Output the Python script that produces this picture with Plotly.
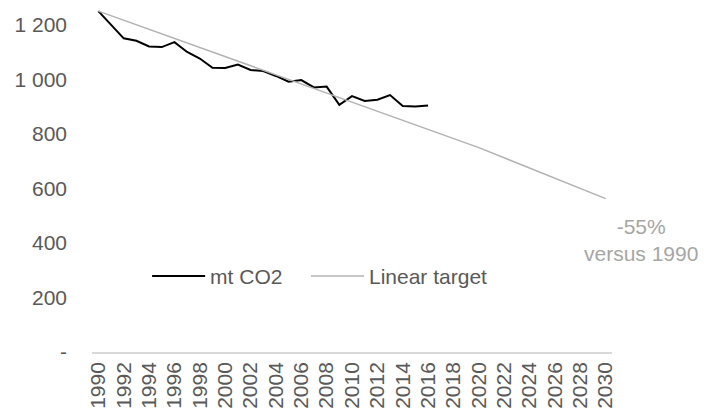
import plotly.graph_objects as go

# Annual emissions (mt CO2)
years = list(range(1990, 2017))
emissions = [1251, 1201, 1151, 1142, 1121, 1119, 1137, 1101, 1077, 1043,
             1042, 1055, 1035, 1031, 1013, 992, 998, 971, 974, 907,
             939, 921, 926, 943, 903, 901, 905]

# Linear reduction path: -40% by 2020, -55% by 2030
target_years = [1990, 2020, 2030]
target_values = [1251, 750, 563]

y_ticks = [0, 200, 400, 600, 800, 1000, 1200]
y_labels = ["-", "200", "400", "600", "800", "1 000", "1 200"]
x_ticks = list(range(1990, 2031, 2))

FONT = "Liberation Sans, Arial, sans-serif"
TXT = "#595959"
FS = 21

fig = go.Figure()
fig.add_trace(go.Scatter(x=years, y=emissions, mode="lines", name="mt CO2",
                         line=dict(color="#000000", width=2), legend="legend"))
fig.add_trace(go.Scatter(x=target_years, y=target_values, mode="lines",
                         name="Linear target",
                         line=dict(color="#b3b3b3", width=1.5), legend="legend2"))

fig.add_annotation(x=1.0558, y=0.318, xref="paper", yref="paper",
                   text="-55%<br>versus 1990", showarrow=False,
                   xanchor="center", yanchor="middle",
                   font=dict(family=FONT, size=FS, color="#a6a6a6"),
                   align="center")

legend_common = dict(orientation="h", y=0.215, xanchor="left", yanchor="middle",
                     bgcolor="rgba(0,0,0,0)",
                     font=dict(family=FONT, size=FS, color=TXT), itemwidth=53)

fig.update_layout(
    width=704, height=414,
    margin=dict(l=92, r=92, t=0, b=62),
    paper_bgcolor="white", plot_bgcolor="white",
    font=dict(family=FONT, size=FS, color=TXT),
    showlegend=True,
    legend=dict(x=0.106, **legend_common),
    legend2=dict(x=0.4115, **legend_common),
    xaxis=dict(range=[1989.5, 2030.5], tickvals=x_ticks,
               ticktext=[str(v) for v in x_ticks], tickangle=-90,
               showgrid=False, zeroline=False, showline=True,
               linecolor="#d9d9d9", linewidth=1.5, ticks="",
               tickfont=dict(family=FONT, size=FS, color=TXT)),
    yaxis=dict(range=[0, 1291.7], tickvals=y_ticks, ticktext=y_labels,
               showgrid=False, zeroline=False, showline=False, ticks="",
               ticklabelstandoff=24,
               tickfont=dict(family=FONT, size=FS, color=TXT)),
)

fig.write_html("out.html")
